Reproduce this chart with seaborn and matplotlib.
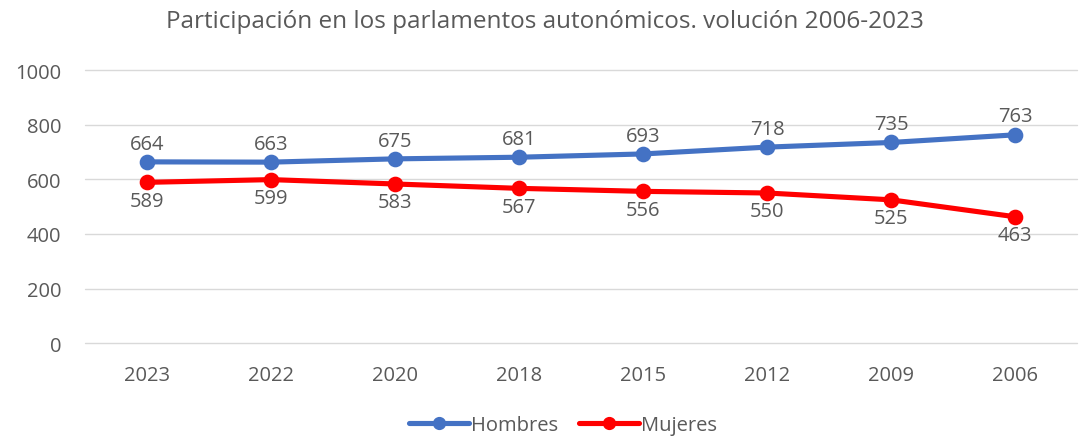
import pandas as pd
import numpy as np
import matplotlib.pyplot as plt
import seaborn as sns
from matplotlib.lines import Line2D

years = ["2023", "2022", "2020", "2018", "2015", "2012", "2009", "2006"]
hombres = [664, 663, 675, 681, 693, 718, 735, 763]
mujeres = [589, 599, 583, 567, 556, 550, 525, 463]
series_names = ["Hombres", "Mujeres"]
colors = {"Hombres": "#4472C4", "Mujeres": "#FF0000"}
text_color = "#595959"

df = pd.DataFrame({
    "year": years * 2,
    "value": hombres + mujeres,
    "serie": ["Hombres"] * len(years) + ["Mujeres"] * len(years),
})

sns.set_style("white")
plt.rcParams['font.family'] = ['Open Sans', 'DejaVu Sans']

fig = plt.figure(figsize=(10.89, 4.39), dpi=100)
ax = fig.add_axes([0.078, 0.216, 0.911, 0.622])

sns.pointplot(data=df, x="year", y="value", hue="serie", order=years,
              hue_order=series_names, palette=colors, markers="o",
              markersize=8.5, linewidth=3.7, ax=ax, legend=False)

# data labels: men above, women below
for i, v in enumerate(hombres):
    ax.annotate(str(v), (i, v), xytext=(0, 6), textcoords="offset points",
                ha="center", va="bottom", fontsize=14.5, color=text_color)
for i, v in enumerate(mujeres):
    ax.annotate(str(v), (i, v), xytext=(0, -6), textcoords="offset points",
                ha="center", va="top", fontsize=14.5, color=text_color)

ax.set_ylim(0, 1000)
ax.set_yticks(range(0, 1001, 200))
ax.set_xlim(-0.5, len(years) - 0.5)
ax.yaxis.grid(True, color="#D9D9D9", linewidth=1)
for gl in ax.get_ygridlines():
    gl.set_clip_on(False)
ax.set_axisbelow(True)
for s in ax.spines.values():
    s.set_visible(False)
ax.tick_params(axis="both", length=0, labelsize=14.5, labelcolor=text_color)
ax.tick_params(axis="x", pad=16)
ax.tick_params(axis="y", pad=17)
ax.set_xlabel("")
ax.set_ylabel("")

fig.suptitle("Participación en los parlamentos autonómicos. volución 2006-2023",
             y=0.978, fontsize=17.5, color=text_color)

handles = [Line2D([0], [0], color=colors[n], linewidth=3.7, marker="o",
                  markersize=8.5) for n in series_names]
fig.legend(handles, series_names, loc="lower center", ncol=2, frameon=False,
           fontsize=14.5, handlelength=3.0, handletextpad=0.1, columnspacing=1.0,
           bbox_to_anchor=(0.517, -0.035), labelcolor=text_color)

fig.savefig("out.png", dpi=100)
